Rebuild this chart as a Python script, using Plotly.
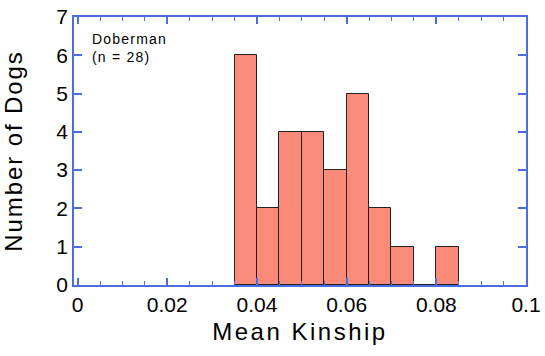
import plotly.graph_objects as go

bin_starts = [0.035, 0.040, 0.045, 0.050, 0.055, 0.060, 0.065, 0.070, 0.075, 0.080]
counts = [6, 2, 4, 4, 3, 5, 2, 1, 0, 1]
bin_width = 0.005
x_ticks = [0, 0.02, 0.04, 0.06, 0.08, 0.1]
x_ticklabels = ["0", "0.02", "0.04", "0.06", "0.08", "0.1"]
y_ticks = [0, 1, 2, 3, 4, 5, 6, 7]

centers = [s + bin_width / 2 for s in bin_starts]

axis_blue = "#4a6ee0"
font_family = "Liberation Sans, Arial, Helvetica, sans-serif"


def spaced(text, px):
    return '<span style="letter-spacing:%spx">%s</span>' % (px, text)


fig = go.Figure(go.Bar(
    x=centers, y=counts, width=[bin_width] * len(counts),
    marker=dict(color="#fa8b79", line=dict(color="#222222", width=1)),
))

fig.update_layout(
    width=545, height=356,
    margin=dict(l=74, r=19, t=17, b=71),
    paper_bgcolor="white", plot_bgcolor="white",
    showlegend=False,
    bargap=0,
    font=dict(family=font_family, color="black"),
    annotations=[dict(
        x=0.0028, y=0.955, xref="x", yref="paper", xanchor="left", yanchor="top",
        text=spaced("Doberman", 1.2) + "<br>" + spaced("(n = 28)", 1.2),
        showarrow=False, align="left",
        font=dict(size=14, family=font_family, color="black"),
    )],
)

fig.update_xaxes(
    range=[-0.0008, 0.1], tickvals=x_ticks, ticktext=x_ticklabels,
    ticks="inside", ticklen=7, tickwidth=1.5, tickcolor=axis_blue,
    minor=dict(dtick=0.005, tick0=0, ticks="inside", ticklen=4, tickwidth=1.2, tickcolor=axis_blue),
    showline=True, linecolor=axis_blue, linewidth=1.5, mirror="ticks",
    showgrid=False, zeroline=False, automargin=False, ticklabeloverflow="allow",
    tickfont=dict(size=21, family=font_family, color="black"),
    title=dict(text=spaced("Mean Kinship", 2.5),
               font=dict(size=24, family=font_family, color="black"), standoff=8),
)
fig.update_yaxes(
    range=[0, 7], tickvals=y_ticks,
    ticks="inside", ticklen=8, tickwidth=1.5, tickcolor=axis_blue,
    showline=True, linecolor=axis_blue, linewidth=1.5, mirror="ticks",
    showgrid=False, zeroline=False, automargin=False, ticklabeloverflow="allow",
    tickfont=dict(size=21, family=font_family, color="black"),
    title=dict(text=spaced("Number of Dogs", 1.9),
               font=dict(size=24, family=font_family, color="black"), standoff=31),
)

fig.write_html("out.html", config={"displayModeBar": False},
               post_script="document.body.style.margin='0';")
